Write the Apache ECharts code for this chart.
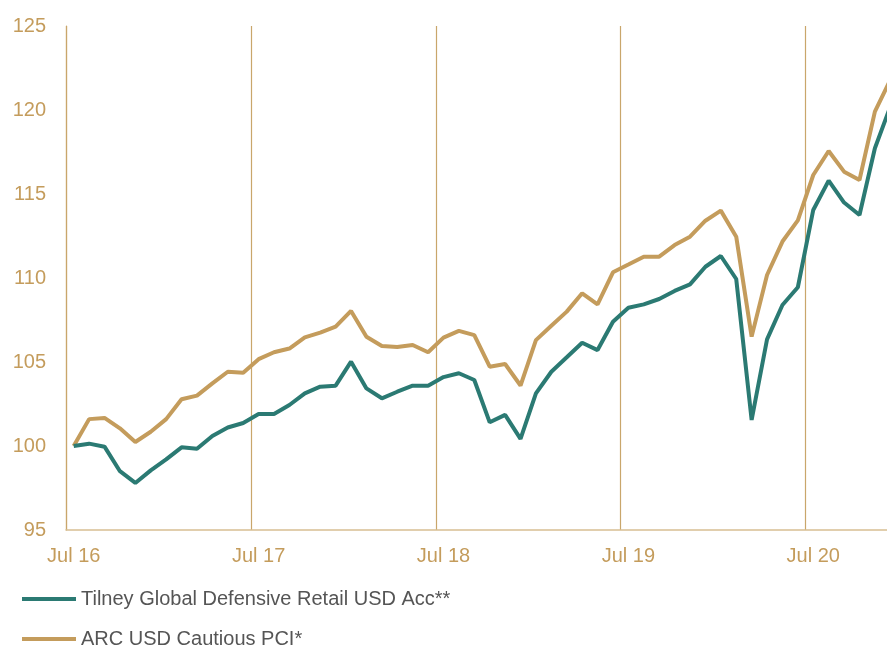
<!DOCTYPE html>
<html>
<head>
<meta charset="utf-8">
<script src="https://cdn.jsdelivr.net/npm/echarts@6/dist/echarts.min.js"></script>
<style>
  html, body { margin: 0; padding: 0; background: #fff; overflow: hidden; }
  /* canvas is a little wider than the window: the last month is cut off at the right edge */
  #main { width: 898px; height: 646px; }
</style>
</head>
<body>
<div id="main"></div>
<script>
// month labels, Jul 16 .. Dec 20
var monthNames = ['Jan','Feb','Mar','Apr','May','Jun','Jul','Aug','Sep','Oct','Nov','Dec'];
var months = [];
for (var i = 0; i < 54; i++) {
    var m = (6 + i) % 12;
    var y = 16 + Math.floor((6 + i) / 12);
    months.push(monthNames[m] + ' ' + y);
}

var tilney = [100.0, 100.14, 99.96, 98.5, 97.8, 98.55, 99.2, 99.92, 99.84, 100.6, 101.1, 101.37,
    101.9, 101.9, 102.44, 103.13, 103.53, 103.59, 105.02, 103.43, 102.84, 103.23, 103.59, 103.59,
    104.1, 104.33, 103.93, 101.41, 101.85, 100.42, 103.13, 104.42, 105.28, 106.15, 105.71, 107.4,
    108.23, 108.43, 108.75, 109.23, 109.62, 110.67, 111.31, 109.94, 101.55, 106.35, 108.39, 109.45,
    114.05, 115.8, 114.49, 113.75, 117.72, 120.2];

var arc = [100, 101.6, 101.67, 101.05, 100.24, 100.85, 101.6, 102.78, 103.0, 103.73, 104.42, 104.36,
    105.17, 105.58, 105.8, 106.47, 106.75, 107.1, 108.04, 106.5, 105.95, 105.89, 106.01, 105.58,
    106.45, 106.85, 106.6, 104.72, 104.88, 103.6, 106.3, 107.16, 108.0, 109.09, 108.43, 110.34,
    110.8, 111.27, 111.27, 111.96, 112.46, 113.41, 114.01, 112.46, 106.51, 110.18, 112.17, 113.43,
    116.13, 117.56, 116.33, 115.83, 119.9, 121.8];

var teal = '#2b7a73';
var gold = '#c49c5c';

var myChart = echarts.init(document.getElementById('main'));

option = {
    animation: false,
    grid: {
        left: 66,
        right: 0,
        top: 26,
        bottom: 116
    },
    legend: {
        orient: 'vertical',
        left: 17,
        top: 584,
        height: 80,
        itemWidth: 54,
        itemHeight: 4,
        itemGap: 20,
        icon: 'rect',
        textStyle: {
            fontFamily: 'Liberation Sans',
            fontSize: 20,
            color: '#555555'
        },
        data: ['Tilney Global Defensive Retail USD Acc**', 'ARC USD Cautious PCI*']
    },
    xAxis: {
        type: 'category',
        data: months,
        boundaryGap: true,
        axisLine: { lineStyle: { color: '#d8bf92', width: 1.5 } },
        axisTick: { show: false, interval: 11 },
        splitLine: {
            show: true,
            interval: 11,
            lineStyle: { color: '#c9a66b', width: 1.2 }
        },
        axisLabel: {
            interval: 11,
            margin: 16,
            color: gold,
            fontFamily: 'Liberation Sans',
            fontSize: 20
        }
    },
    yAxis: {
        type: 'value',
        min: 95,
        max: 125,
        interval: 5,
        axisLine: { show: true, lineStyle: { color: '#c9a66b', width: 1.2 } },
        axisTick: { show: false },
        splitLine: { show: false },
        axisLabel: {
            margin: 20,
            color: gold,
            fontFamily: 'Liberation Sans',
            fontSize: 20
        }
    },
    series: [
        {
            name: 'Tilney Global Defensive Retail USD Acc**',
            type: 'line',
            data: tilney,
            showSymbol: false,
            symbol: 'none',
            lineStyle: { color: teal, width: 4 },
            itemStyle: { color: teal },
            z: 3
        },
        {
            name: 'ARC USD Cautious PCI*',
            type: 'line',
            data: arc,
            showSymbol: false,
            symbol: 'none',
            lineStyle: { color: gold, width: 4 },
            itemStyle: { color: gold },
            z: 2
        }
    ]
};

myChart.setOption(option);
</script>
</body>
</html>
